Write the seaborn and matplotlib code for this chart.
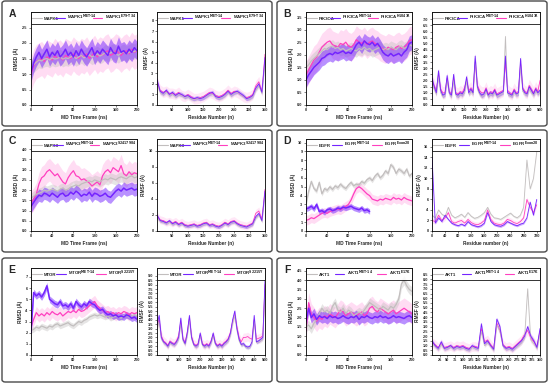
import numpy as np
import pandas as pd
import matplotlib
matplotlib.use("Agg")
import matplotlib.pyplot as plt
import seaborn as sns
from matplotlib.patches import FancyBboxPatch
from matplotlib.lines import Line2D

sns.set_style("ticks")
plt.rcParams['font.family'] = ['Liberation Sans', 'DejaVu Sans']
plt.rcParams['font.weight'] = 'bold'

# time axis for RMSD (ns), every 5 ns
time_ns = np.arange(0, 201, 5)

# ---- panel A : MAPK1 ----
a_names = ["MAPK1", r"MAPK1$^{\mathbf{MET\text{-}14}}$", r"MAPK1$^{\mathbf{E79\text{-}T34}}$"]
a_rmsd_gray = [1.20,1.30,1.38,1.45,1.42,1.48,1.50,1.45,1.52,1.48,1.50,1.55,1.48,1.52,1.50,1.55,1.58,1.50,1.55,1.60,1.52,
               1.58,1.62,1.55,1.60,1.65,1.58,1.62,1.70,1.65,1.68,1.72,1.65,1.60,1.68,1.72,1.65,1.70,1.75,1.72,1.78]
a_rmsd_purple = [1.05,1.35,1.55,1.70,1.50,1.65,1.80,1.55,1.70,1.60,1.75,1.55,1.65,1.80,1.60,1.70,1.55,1.75,1.60,1.80,1.65,
                 1.55,1.70,1.85,1.60,1.75,1.65,1.80,1.70,1.60,1.85,1.70,1.65,1.90,1.70,1.75,1.65,1.80,1.70,1.85,1.75]
a_rmsd_magenta = [1.00,1.25,1.40,1.45,1.50,1.40,1.55,1.50,1.45,1.60,1.50,1.55,1.45,1.60,1.55,1.50,1.65,1.55,1.50,1.60,1.55,
                  1.65,1.50,1.60,1.70,1.55,1.65,1.60,1.70,1.75,1.60,1.65,1.75,1.70,1.60,1.70,1.75,1.65,1.80,1.70,1.75]
a_res = np.arange(0, 351, 10)
a_rmsf_purple = [2.4,1.3,1.1,1.4,1.0,1.2,0.9,1.1,1.0,0.8,0.9,0.7,0.6,0.7,0.6,0.7,0.9,1.1,
                 1.2,0.8,0.7,0.8,1.0,1.3,1.0,1.2,1.3,1.1,0.9,0.6,0.7,0.9,1.6,2.0,1.2,4.5]
a_rmsf_magenta = [2.2,1.4,1.2,1.3,1.1,1.1,1.0,1.2,0.9,0.8,1.0,0.8,0.6,0.6,0.7,0.8,1.0,1.2,
                  1.1,0.9,0.8,0.9,1.1,1.4,1.1,1.3,1.2,1.0,0.8,0.7,0.8,1.0,1.8,2.2,1.3,4.8]
a_rmsf_gray = [2.0,1.2,1.0,1.2,0.9,1.0,0.8,1.0,0.9,0.7,0.8,0.6,0.5,0.6,0.6,0.7,0.8,1.0,
               1.0,0.8,0.6,0.7,0.9,1.2,0.9,1.1,1.2,1.0,0.8,0.6,0.6,0.8,1.4,1.8,1.1,4.0]

# ---- panel B : PIK3CA ----
b_names = ["PIK3CA", r"PIK3CA$^{\mathbf{MET\text{-}14}}$", r"PIK3CA$^{\mathbf{H1047R}}$"]
b_rmsd_gray = [1.50,1.60,1.75,1.85,1.95,2.05,2.15,2.25,2.20,2.30,2.35,2.25,2.30,2.20,2.25,2.15,2.20,2.25,2.20,2.15,2.25,
               2.20,2.30,2.20,2.25,2.15,2.20,2.25,2.30,2.20,2.25,2.20,2.30,2.25,2.20,2.30,2.35,2.25,2.30,2.40,2.35]
b_rmsd_purple = [1.00,1.20,1.35,1.50,1.60,1.70,1.85,1.90,2.00,2.05,2.00,2.10,2.05,2.10,2.15,2.05,2.10,2.05,2.20,2.40,2.50,
                 2.35,2.55,2.45,2.40,2.50,2.35,2.45,2.30,2.10,2.00,1.95,2.05,1.95,2.00,2.05,1.95,2.10,2.20,2.45,2.50]
b_rmsd_magenta = [1.20,1.40,1.60,1.80,1.90,2.10,2.30,2.40,2.50,2.55,2.40,2.35,2.30,2.45,2.40,2.50,2.35,2.30,2.40,2.60,2.50,
                  2.45,2.55,2.40,2.50,2.55,2.45,2.40,2.30,2.25,2.20,2.30,2.25,2.20,2.30,2.35,2.25,2.30,2.40,2.55,2.60]
b_res = np.arange(0, 501, 10)
b_rmsf_purple = [2.2,1.5,1.0,2.8,1.2,0.8,0.9,2.4,1.0,0.8,2.5,0.9,0.8,1.0,0.9,1.2,2.3,1.0,1.3,1.0,4.0,1.5,1.0,0.8,0.9,1.3,
                 0.8,1.0,0.9,1.2,0.8,0.9,1.0,1.1,4.0,1.0,0.9,0.8,1.2,0.9,1.0,3.8,1.3,1.0,0.9,1.5,1.2,0.9,1.3,1.0,1.2]
b_rmsf_magenta = [2.0,1.6,1.2,2.5,1.3,1.0,1.0,2.2,1.1,0.9,2.2,1.0,0.9,1.1,1.0,1.4,2.0,1.2,1.4,1.1,3.5,1.6,1.2,1.0,1.0,1.4,
                  0.9,1.1,1.0,1.3,0.9,1.0,1.1,1.2,3.5,1.2,1.0,0.9,1.3,1.0,1.1,3.4,1.4,1.1,1.0,1.6,1.3,1.0,1.4,1.1,2.0]
b_rmsf_gray = [1.8,1.3,0.9,2.3,1.0,0.7,0.8,2.0,0.9,0.7,2.0,0.8,0.7,0.9,0.8,1.0,2.0,0.9,1.1,0.9,3.8,1.3,0.9,0.7,0.8,1.1,
               0.7,0.9,0.8,1.0,0.7,0.8,0.9,1.0,5.6,0.9,0.8,0.7,1.0,0.8,0.9,3.2,1.1,0.9,0.8,1.3,1.0,0.8,1.1,0.9,1.0]

# ---- panel C : MAPK3 ----
c_names = ["MAPK3", r"MAPK3$^{\mathbf{MET\text{-}14}}$", r"MAPK3$^{\mathbf{S2417984}}$"]
c_rmsd_gray = [1.60,1.70,1.80,1.85,1.90,2.00,1.95,2.00,2.05,2.00,1.95,2.05,2.10,2.00,2.05,2.15,2.20,2.25,2.20,2.30,2.35,
               2.40,2.45,2.40,2.50,2.45,2.40,2.50,2.55,2.50,2.60,2.55,2.50,2.60,2.65,2.60,2.55,2.65,2.70,2.60,2.65]
c_rmsd_purple = [1.20,1.40,1.60,1.75,1.70,1.85,1.80,1.70,1.85,1.75,1.65,1.80,1.85,1.70,1.75,1.90,1.80,1.95,1.85,1.70,1.80,
                 1.75,1.90,1.70,1.85,1.80,1.70,1.75,1.85,1.70,1.65,1.80,1.95,2.05,1.95,2.10,2.00,2.05,2.10,2.00,2.05]
c_rmsd_magenta = [1.40,1.55,1.80,2.30,2.60,2.70,2.90,3.00,2.85,2.70,2.80,2.60,2.40,2.30,2.60,2.80,2.95,2.70,2.65,2.50,2.55,
                  2.45,2.35,2.20,2.30,2.40,2.25,2.70,2.90,3.00,2.85,3.10,3.00,2.90,3.20,2.80,2.70,2.90,2.75,2.85,2.80]
c_res = np.arange(0, 351, 10)
c_rmsf_purple = [2.0,1.3,1.2,1.0,1.3,0.9,1.1,0.8,1.0,0.7,0.6,0.7,0.8,0.6,0.7,0.9,1.0,0.7,
                 0.8,0.6,0.5,0.7,1.0,0.8,1.1,1.2,0.9,0.7,0.6,0.5,0.7,0.9,1.8,2.2,1.3,5.0]
c_rmsf_magenta = [1.9,1.4,1.3,1.1,1.2,1.0,1.2,0.9,1.1,0.8,0.7,0.8,0.9,0.7,0.8,1.0,1.1,0.8,
                  0.9,0.7,0.6,0.8,1.1,0.9,1.2,1.3,1.0,0.8,0.7,0.6,0.8,1.0,2.2,2.5,1.5,5.2]
c_rmsf_gray = [1.7,1.2,1.1,0.9,1.1,0.8,1.0,0.7,0.9,0.6,0.6,0.6,0.7,0.6,0.6,0.8,0.9,0.7,
               0.7,0.6,0.5,0.6,0.9,0.7,1.0,1.1,0.8,0.6,0.6,0.5,0.6,0.8,1.6,2.0,1.2,4.6]

# ---- panel D : EGFR ----
d_names = ["EGFR", r"EGFR$^{\mathbf{MET\text{-}14}}$", r"EGFR$^{\mathbf{Exon20}}$"]
d_rmsd_gray = [3.0,4.5,5.6,4.8,4.5,5.5,4.2,4.8,4.6,5.0,4.7,5.1,4.9,5.3,5.0,4.8,5.2,5.5,5.1,5.3,5.2,
               5.6,5.4,5.8,6.0,5.7,6.2,6.5,6.0,6.3,6.8,6.5,7.5,7.2,6.5,7.0,6.8,6.5,7.0,6.2,6.5]
d_rmsd_purple = [2.5,2.6,2.8,2.5,3.0,2.2,2.3,2.1,2.4,2.5,2.3,2.4,2.6,2.5,2.7,2.6,2.7,2.8,2.6,2.5,2.4,
                 2.6,2.3,2.4,2.2]
d_rmsd_magenta = [1.2,1.3,1.5,1.4,1.6,1.8,2.0,2.1,2.0,2.2,2.3,2.4,2.5,2.4,2.6,2.8,3.0,3.5,4.2,4.8,5.0,
                  4.8,4.5,4.2,4.0,3.6,3.5,3.4,3.6,3.5,3.7,3.6,3.5,3.8,3.6,3.7,3.5,3.8,3.6,3.5,3.4]
d_res = np.arange(0, 321, 10)
d_rmsf_purple = [14.0,1.5,2.5,1.8,3.0,2.2,1.5,1.2,1.0,1.3,1.0,1.8,1.2,1.0,0.8,1.0,1.5,3.5,1.8,1.2,1.0,0.9,
                 1.2,1.8,1.5,1.2,1.0,1.3,1.5,2.5,5.5,3.0,6.0]
d_rmsf_magenta = [2.0,1.8,3.0,2.0,2.5,3.5,1.8,1.5,1.8,2.0,1.5,2.2,1.6,1.3,1.2,1.5,2.0,4.0,2.2,1.5,1.3,1.2,
                  1.5,2.2,2.0,1.6,1.4,1.8,2.5,6.0,4.5,3.5,5.0]
d_rmsf_gray = [3.0,2.5,4.0,3.2,2.8,4.5,3.0,2.5,2.8,3.2,2.6,3.5,2.8,2.4,2.6,3.0,3.5,4.5,3.2,2.5,2.4,2.2,
               2.6,3.0,3.4,2.8,2.5,3.0,4.5,13.5,8.0,10.0,15.0]

# ---- panel E : MTOR ----
e_names = ["MTOR", r"MTOR$^{\mathbf{MET\text{-}14}}$", r"MTOR$^{\mathbf{S2215Y}}$"]
e_rmsd_gray = [2.2,2.3,2.5,2.4,2.6,2.5,2.4,2.6,2.5,2.7,2.8,2.6,2.7,2.8,2.9,2.7,2.6,2.8,3.0,2.9,3.1,
               3.2,3.4,3.5,3.6,3.5,3.6,3.5,3.4,3.5,3.3,3.4,3.5,3.4,3.3,3.5,3.6,3.4,3.5,3.6,3.5]
e_rmsd_purple = [2.0,5.6,5.3,5.5,5.2,5.6,6.2,5.0,4.8,4.6,4.5,4.8,4.4,4.5,4.3,4.6,4.2,4.8,4.5,4.3,4.6,
                 4.4,4.8,4.6,4.5,4.2,4.0,4.1,3.8,3.6,3.7,3.5,3.6,3.4,3.5,3.4,3.6,3.5,3.3,3.4,3.2]
e_rmsd_magenta = [2.5,3.2,3.8,3.5,3.7,3.5,3.8,3.6,3.9,3.7,3.6,3.8,3.5,3.7,3.9,3.8,4.0,3.8,4.1,3.9,4.0,
                  4.2,4.4,4.6,4.8,4.4,4.2,4.0,3.8,3.9,3.7,3.8,3.6,3.8,3.7,3.9,3.8,3.6,3.8,3.7,3.8]
e_res = np.arange(0, 501, 10)
e_rmsf_purple = [3.5,4.5,2.0,1.5,1.3,1.0,1.5,1.3,1.2,1.5,2.0,4.2,1.8,1.3,2.5,4.5,2.0,1.2,1.0,1.2,2.5,1.2,1.0,1.2,1.0,1.5,
                 2.5,1.3,1.0,1.2,1.0,1.3,1.5,1.8,2.5,4.0,5.0,3.0,1.8,1.2,1.3,1.0,0.9,1.0,1.5,4.5,1.5,1.6,1.8,2.0,8.5]
e_rmsf_magenta = [3.2,4.0,2.2,1.6,1.4,1.1,1.6,1.4,1.3,1.6,2.2,3.8,1.9,1.4,2.6,4.2,2.1,1.3,1.1,1.3,2.3,1.3,1.1,1.3,1.1,1.6,
                  2.3,1.4,1.1,1.3,1.1,1.4,1.6,1.9,2.6,3.8,4.6,3.2,2.0,1.5,2.0,2.0,2.1,1.9,1.8,4.0,1.8,1.9,2.0,2.2,8.0]
e_rmsf_gray = [3.0,3.8,1.8,1.4,1.2,0.9,1.4,1.2,1.1,1.4,1.8,3.5,1.6,1.2,2.2,4.0,1.8,1.1,0.9,1.1,2.2,1.1,0.9,1.1,0.9,1.4,
               2.2,1.2,0.9,1.1,0.9,1.2,1.4,1.6,2.3,3.6,4.5,2.8,1.6,1.1,1.2,0.9,0.8,0.9,1.4,4.0,1.4,1.5,1.6,1.8,7.5]

# ---- panel F : AKT1 ----
f_names = ["AKT1", r"AKT1$^{\mathbf{MET\text{-}14}}$", r"AKT1$^{\mathbf{E17K}}$"]
f_rmsd_gray = [1.5,1.6,1.4,1.7,1.9,2.2,2.5,2.3,2.4,2.2,2.6,2.8,2.4,2.3,2.5,2.2,2.4,2.3,2.1,2.2,2.3,
               2.2,2.4,2.6,2.8,2.7,2.6,2.5,2.4,2.6,2.5,2.4,2.6,2.5,2.7,3.0,3.8,4.0,3.7,3.5,3.4]
f_rmsd_purple = [1.8,2.5,2.0,2.2,1.9,2.1,2.0,2.05,1.95,2.1,2.0,2.05,1.95,2.0,2.1,2.0,1.95,2.05,2.0,2.1,1.9,
                 2.05,2.0,2.1,2.0,1.95,2.05,2.0,2.1,2.0,2.05,1.95,2.0,2.1,2.0,2.05,2.0,1.95,2.05,2.1,2.0]
f_rmsd_magenta = [1.3,2.8,2.2,2.0,1.8,2.0,1.9,2.1,2.0,2.2,2.1,2.0,2.2,2.4,2.3,2.1,2.2,2.3,2.2,2.1,2.2,
                  2.3,2.1,2.2,2.5,2.6,2.4,2.3,2.5,2.4,2.3,2.2,2.3,2.4,2.2,2.3,2.4,2.5,2.4,2.3,2.2]
f_res = np.arange(0, 351, 10)
f_rmsf_purple = [1.5,1.0,0.7,1.4,0.7,0.8,1.0,0.7,0.9,0.8,0.9,0.7,0.6,1.0,0.8,0.7,3.3,1.2,
                 1.5,1.0,0.6,3.8,3.0,1.0,0.7,0.8,0.6,0.9,1.2,1.5,2.0,3.0,2.0,1.5,0.8,2.8]
f_rmsf_magenta = [1.3,1.1,0.8,1.2,0.8,0.9,1.0,0.8,1.0,0.9,1.0,0.8,0.7,0.9,0.9,0.8,2.8,1.4,
                  1.6,1.1,0.7,3.4,2.6,1.1,0.8,0.9,0.7,1.0,1.3,1.6,2.2,2.6,1.8,1.4,0.9,2.5]
f_rmsf_gray = [1.2,0.9,0.6,1.1,0.6,0.7,0.9,0.6,0.8,0.7,0.8,0.6,0.5,0.8,0.7,0.6,2.5,1.0,
               1.3,0.9,0.5,3.2,2.5,0.9,0.6,0.7,0.5,0.8,1.0,1.3,1.8,7.0,1.6,1.2,0.7,2.2]

GRAY = "#c2bebe"
PURPLE = "#7424ff"
MAGENTA = "#ff3fc0"

W, H = 550, 384
fig = plt.figure(figsize=(5.5, 3.84), dpi=100)

panels = [
    ("A", 0, 0, a_names, a_rmsd_gray, a_rmsd_purple, a_rmsd_magenta, a_res, a_rmsf_gray, a_rmsf_purple, a_rmsf_magenta,
     3.0, np.arange(0, 2.6, 0.5), "%.1f", 8.8, np.arange(0, 9, 1), "%d", 350, np.arange(50, 351, 50), "Residue Number (n)"),
    ("B", 275, 0, b_names, b_rmsd_gray, b_rmsd_purple, b_rmsd_magenta, b_res, b_rmsf_gray, b_rmsf_purple, b_rmsf_magenta,
     3.7, np.arange(0, 3.6, 0.5), "%.1f", 7.6, np.arange(0, 7.1, 0.5), "%.1f", 500, np.arange(50, 501, 50), "Residue Number (n)"),
    ("C", 0, 128, c_names, c_rmsd_gray, c_rmsd_purple, c_rmsd_magenta, c_res, c_rmsf_gray, c_rmsf_purple, c_rmsf_magenta,
     4.5, np.arange(0, 4.1, 0.5), "%.1f", 11.5, np.arange(0, 11, 2), "%d", 350, np.arange(50, 351, 50), "Residue Number (n)"),
    ("D", 275, 128, d_names, d_rmsd_gray, d_rmsd_purple, d_rmsd_magenta, d_res, d_rmsf_gray, d_rmsf_purple, d_rmsf_magenta,
     10.4, np.arange(0, 11, 1), "%d", 17.5, np.arange(0, 17, 2), "%d", 330, np.arange(0, 321, 40), "Residue number (n)"),
    ("E", 0, 256, e_names, e_rmsd_gray, e_rmsd_purple, e_rmsd_magenta, e_res, e_rmsf_gray, e_rmsf_purple, e_rmsf_magenta,
     7.8, np.arange(0, 7.1, 1), "%d", 9.9, np.arange(0, 9.1, 0.5), "%.1f", 500, np.arange(50, 501, 50), "Residue Number (n)"),
    ("F", 275, 256, f_names, f_rmsd_gray, f_rmsd_purple, f_rmsd_magenta, f_res, f_rmsf_gray, f_rmsf_purple, f_rmsf_magenta,
     4.65, np.arange(0, 4.6, 0.5), "%.1f", 9.2, np.arange(0, 8.6, 0.5), "%.1f", 350, np.arange(25, 351, 25), "Residue Number (n)"),
]

row_y = {0: (12, 105, 1, 126), 128: (139, 231, 130, 252), 256: (268, 355, 258, 382)}


def fig_rect(x0, y0, x1, y1):
    return [x0 / W, 1 - y1 / H, (x1 - x0) / W, (y1 - y0) / H]


def style_axis(ax, names, ymax, yticks, yfmt):
    ax.set_ylim(0, ymax)
    ax.set_yticks(yticks)
    ax.set_yticklabels([yfmt % v for v in yticks])
    ax.tick_params(labelsize=2.8, length=1.5, width=0.4, pad=1)
    for s in ax.spines.values():
        s.set_linewidth(0.6)
        s.set_color("black")
    handles = [Line2D([], [], color=GRAY, lw=0.8), Line2D([], [], color=PURPLE, lw=0.8),
               Line2D([], [], color=MAGENTA, lw=0.8)]
    leg = ax.legend(handles, names, loc="upper left", bbox_to_anchor=(0, 1.0, 1, 0.0), mode="expand",
                    ncol=3, fontsize=3.2, frameon=True, fancybox=False, borderpad=0.25,
                    handlelength=2.2, handletextpad=0.5, borderaxespad=0)
    leg.get_frame().set_edgecolor("black")
    leg.get_frame().set_linewidth(0.7)


for (letter, px, py, names, r_g, r_p, r_m, res, f_g, f_p, f_m,
     ymax1, yt1, fmt1, ymax2, yt2, fmt2, xmax2, xt2, xlab2) in panels:
    top, bot, btop, bbot = row_y[py]
    fig.add_artist(FancyBboxPatch(((px + 2) / W, 1 - bbot / H), 270 / W, (bbot - btop) / H,
                                  boxstyle="round,pad=0,rounding_size=0.006", transform=fig.transFigure,
                                  facecolor="white", edgecolor="#4a4a4a", lw=1.0, zorder=-1))
    fig.text((px + 12) / W, 1 - (top + 2) / H, letter, fontsize=7.5, fontweight="bold", ha="center", va="center")

    # RMSD
    ax = fig.add_axes(fig_rect(px + 31, top, px + 137, bot))
    for vals, col, band, a, lw in [(r_m, MAGENTA, 0.55, 0.18, 0.9), (r_g, GRAY, 0.25, 0.4, 0.9),
                                   (r_p, PURPLE, 0.3, 0.5, 1.1)]:
        t = time_ns[:len(vals)]
        v = np.array(vals)
        ax.fill_between(t, v - band, v + band, color=col, alpha=a, lw=0)
        sns.lineplot(x=t, y=v, ax=ax, color=col, lw=lw)
    ax.set_xlim(0, 200)
    ax.set_xticks(np.arange(0, 201, 40))
    ax.set_xlabel("MD Time Frame (ns)", fontsize=3.4, fontweight="bold", labelpad=2)
    ax.set_ylabel("RMSD (Å)", fontsize=3.4, fontweight="bold", labelpad=2)
    style_axis(ax, names, ymax1, yt1, fmt1)

    # RMSF
    ax2 = fig.add_axes(fig_rect(px + 157, top, px + 265, bot))
    for vals, col, band, a in [(f_m, MAGENTA, 0.5, 0.12), (f_g, GRAY, 0.2, 0.3), (f_p, PURPLE, 0.2, 0.35)]:
        v = np.array(vals)
        ax2.fill_between(res, np.clip(v - band, 0, None), v + band, color=col, alpha=a, lw=0)
        sns.lineplot(x=res, y=v, ax=ax2, color=col, lw=0.6)
    ax2.set_xlim(0, xmax2)
    ax2.set_xticks(xt2)
    ax2.set_xlabel(xlab2, fontsize=3.4, fontweight="bold", labelpad=2)
    ax2.set_ylabel("RMSF (Å)", fontsize=3.4, fontweight="bold", labelpad=2)
    style_axis(ax2, names, ymax2, yt2, fmt2)

fig.savefig("out.png", dpi=100)
